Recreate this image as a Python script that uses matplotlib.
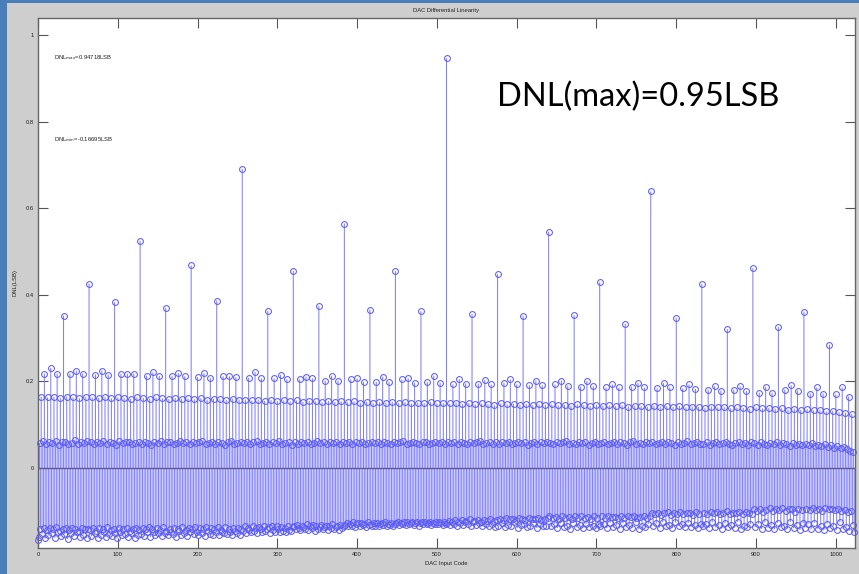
import numpy as np
import matplotlib
matplotlib.use("Agg")
import matplotlib.pyplot as plt
from matplotlib.patches import Rectangle

# DNL value at code 0
dnl_code0 = -0.167

# DNL grouped by the lowest bit that switches on at each code transition
# bit 9 : code 512
dnl_bit9 = [0.947]
# bit 8 : codes 256, 768
dnl_bit8 = [0.691, 0.639]
# bit 7 : codes 128, 384, 640, 896
dnl_bit7 = [0.525, 0.565, 0.546, 0.462]
# bit 6 : codes 64, 192, ... 960
dnl_bit6 = [0.426, 0.468, 0.456, 0.455, 0.448, 0.429, 0.425, 0.361]
# bit 5 : codes 32, 96, ... 992
dnl_bit5 = [0.352, 0.383, 0.370, 0.387, 0.363, 0.374, 0.366, 0.362,
            0.356, 0.352, 0.353, 0.333, 0.347, 0.321, 0.326, 0.285]
# bit 4 : codes 16, 48, ... 1008
dnl_bit4 = [0.231, 0.225, 0.225, 0.218, 0.221, 0.219, 0.219, 0.212,
            0.222, 0.215, 0.211, 0.213, 0.207, 0.211, 0.207, 0.213,
            0.205, 0.204, 0.205, 0.202, 0.202, 0.201, 0.193, 0.197,
            0.196, 0.193, 0.189, 0.189, 0.188, 0.191, 0.186, 0.186]
# bit 3 : codes 8, 24, 40, ... 1016
dnl_bit3 = [0.218, 0.218, 0.218, 0.218, 0.216, 0.216, 0.218, 0.218,
            0.213, 0.213, 0.213, 0.212, 0.210, 0.208, 0.212, 0.210,
            0.208, 0.207, 0.207, 0.205, 0.205, 0.207, 0.202, 0.202,
            0.205, 0.199, 0.199, 0.199, 0.205, 0.197, 0.199, 0.197,
            0.193, 0.195, 0.195, 0.193, 0.197, 0.193, 0.191, 0.191,
            0.193, 0.190, 0.188, 0.189, 0.186, 0.186, 0.188, 0.186,
            0.184, 0.186, 0.184, 0.183, 0.181, 0.179, 0.181, 0.178,
            0.174, 0.174, 0.181, 0.179, 0.172, 0.172, 0.170, 0.165]
# bit 2 : codes 4, 12, 20, ... 1020
dnl_bit2 = [0.165, 0.163, 0.164, 0.162, 0.165, 0.163, 0.161, 0.164, 0.163, 0.162, 0.164, 0.161, 0.163, 0.162, 0.160, 0.163,
            0.162, 0.160, 0.163, 0.161, 0.159, 0.162, 0.160, 0.161, 0.159, 0.161, 0.158, 0.160, 0.159, 0.157, 0.160, 0.158,
            0.158, 0.156, 0.158, 0.155, 0.157, 0.155, 0.156, 0.154, 0.156, 0.153, 0.155, 0.154, 0.152, 0.155, 0.153, 0.154,
            0.152, 0.154, 0.151, 0.153, 0.150, 0.152, 0.151, 0.153, 0.150, 0.152, 0.149, 0.151, 0.150, 0.152, 0.149, 0.150,
            0.149, 0.151, 0.148, 0.150, 0.147, 0.149, 0.148, 0.146, 0.149, 0.147, 0.148, 0.146, 0.148, 0.145, 0.147, 0.146,
            0.147, 0.145, 0.146, 0.144, 0.147, 0.145, 0.143, 0.146, 0.144, 0.145, 0.143, 0.145, 0.142, 0.144, 0.143, 0.141,
            0.144, 0.142, 0.143, 0.141, 0.143, 0.140, 0.142, 0.141, 0.139, 0.142, 0.140, 0.141, 0.138, 0.140, 0.139, 0.137,
            0.140, 0.138, 0.139, 0.137, 0.138, 0.135, 0.137, 0.134, 0.136, 0.133, 0.134, 0.131, 0.132, 0.129, 0.128, 0.125]
# bit 1 : codes 2, 6, 10, ... 1022
dnl_bit1 = [0.058, 0.062, 0.055, 0.060, 0.057, 0.063, 0.054, 0.059, 0.061, 0.056, 0.058, 0.064, 0.055, 0.060, 0.057, 0.062,
            0.059, 0.055, 0.061, 0.057, 0.063, 0.056, 0.060, 0.058, 0.054, 0.062, 0.057, 0.059, 0.061, 0.055, 0.058, 0.060,
            0.056, 0.061, 0.058, 0.054, 0.060, 0.057, 0.062, 0.055, 0.059, 0.061, 0.056, 0.058, 0.063, 0.057, 0.060, 0.055,
            0.060, 0.057, 0.059, 0.062, 0.055, 0.058, 0.061, 0.056, 0.060, 0.058, 0.054, 0.059, 0.062, 0.056, 0.058, 0.061,
            0.057, 0.060, 0.055, 0.059, 0.062, 0.056, 0.058, 0.061, 0.055, 0.059, 0.057, 0.063, 0.056, 0.058, 0.060, 0.054,
            0.059, 0.056, 0.061, 0.057, 0.060, 0.055, 0.058, 0.062, 0.057, 0.059, 0.055, 0.060, 0.058, 0.061, 0.056, 0.059,
            0.058, 0.061, 0.056, 0.059, 0.057, 0.060, 0.055, 0.058, 0.061, 0.057, 0.059, 0.056, 0.060, 0.058, 0.055, 0.059,
            0.057, 0.059, 0.062, 0.056, 0.058, 0.060, 0.057, 0.055, 0.059, 0.061, 0.056, 0.058, 0.060, 0.057, 0.059, 0.056,
            0.060, 0.057, 0.059, 0.055, 0.061, 0.058, 0.056, 0.060, 0.057, 0.059, 0.062, 0.055, 0.058, 0.060, 0.056, 0.059,
            0.056, 0.059, 0.057, 0.061, 0.055, 0.058, 0.060, 0.057, 0.059, 0.054, 0.058, 0.061, 0.056, 0.059, 0.057, 0.060,
            0.058, 0.055, 0.060, 0.057, 0.059, 0.062, 0.056, 0.058, 0.055, 0.060, 0.057, 0.059, 0.054, 0.058, 0.061, 0.056,
            0.057, 0.060, 0.055, 0.058, 0.061, 0.056, 0.059, 0.057, 0.054, 0.059, 0.062, 0.056, 0.058, 0.055, 0.060, 0.057,
            0.059, 0.056, 0.058, 0.061, 0.055, 0.059, 0.057, 0.054, 0.060, 0.056, 0.058, 0.062, 0.055, 0.057, 0.059, 0.056,
            0.056, 0.059, 0.054, 0.058, 0.060, 0.055, 0.057, 0.061, 0.056, 0.053, 0.058, 0.060, 0.055, 0.057, 0.054, 0.059,
            0.057, 0.054, 0.059, 0.056, 0.052, 0.058, 0.055, 0.060, 0.053, 0.057, 0.055, 0.051, 0.058, 0.054, 0.056, 0.052,
            0.055, 0.052, 0.057, 0.050, 0.054, 0.051, 0.056, 0.049, 0.053, 0.047, 0.051, 0.045, 0.049, 0.043, 0.040, 0.036]
# bit 0 : odd codes 1, 3, 5, ... 1023
dnl_bit0 = [
    -0.160, -0.141, -0.152, -0.138, -0.163, -0.144, -0.156, -0.139, -0.150, -0.142, -0.161, -0.137, -0.149, -0.145, -0.158, -0.140,
    -0.153, -0.139, -0.164, -0.143, -0.151, -0.138, -0.157, -0.141, -0.148, -0.146, -0.159, -0.139, -0.154, -0.142, -0.162, -0.140,
    -0.143, -0.158, -0.139, -0.151, -0.145, -0.162, -0.138, -0.155, -0.141, -0.149, -0.160, -0.137, -0.153, -0.144, -0.157, -0.140,
    -0.150, -0.163, -0.139, -0.147, -0.156, -0.142, -0.152, -0.138, -0.159, -0.145, -0.150, -0.141, -0.161, -0.139, -0.154, -0.143,
    -0.152, -0.138, -0.157, -0.142, -0.149, -0.136, -0.160, -0.141, -0.147, -0.155, -0.139, -0.151, -0.143, -0.158, -0.137, -0.150,
    -0.145, -0.156, -0.140, -0.148, -0.153, -0.138, -0.159, -0.142, -0.146, -0.154, -0.137, -0.151, -0.144, -0.157, -0.139, -0.149,
    -0.140, -0.153, -0.137, -0.148, -0.155, -0.139, -0.150, -0.142, -0.157, -0.136, -0.146, -0.152, -0.138, -0.154, -0.141, -0.149,
    -0.137, -0.156, -0.143, -0.147, -0.151, -0.136, -0.153, -0.140, -0.148, -0.155, -0.138, -0.145, -0.150, -0.139, -0.154, -0.141,
    -0.146, -0.135, -0.150, -0.138, -0.143, -0.149, -0.134, -0.145, -0.139, -0.151, -0.136, -0.142, -0.148, -0.133, -0.146, -0.140,
    -0.137, -0.150, -0.135, -0.144, -0.147, -0.134, -0.141, -0.149, -0.136, -0.145, -0.139, -0.148, -0.133, -0.143, -0.146, -0.137,
    -0.134, -0.142, -0.131, -0.139, -0.144, -0.133, -0.137, -0.141, -0.130, -0.143, -0.135, -0.138, -0.132, -0.145, -0.134, -0.140,
    -0.136, -0.131, -0.142, -0.137, -0.133, -0.144, -0.135, -0.139, -0.130, -0.141, -0.136, -0.133, -0.143, -0.132, -0.138, -0.134,
    -0.131, -0.127, -0.135, -0.129, -0.133, -0.126, -0.136, -0.130, -0.128, -0.134, -0.127, -0.132, -0.130, -0.137, -0.126, -0.131,
    -0.129, -0.134, -0.128, -0.133, -0.127, -0.135, -0.130, -0.128, -0.132, -0.126, -0.134, -0.129, -0.131, -0.127, -0.133, -0.130,
    -0.128, -0.125, -0.131, -0.127, -0.129, -0.124, -0.132, -0.126, -0.130, -0.127, -0.125, -0.131, -0.128, -0.126, -0.133, -0.127,
    -0.124, -0.129, -0.126, -0.130, -0.128, -0.125, -0.131, -0.127, -0.129, -0.124, -0.130, -0.126, -0.128, -0.132, -0.125, -0.129,
    -0.127, -0.122, -0.131, -0.125, -0.129, -0.121, -0.133, -0.124, -0.128, -0.120, -0.132, -0.126, -0.123, -0.130, -0.119, -0.134,
    -0.125, -0.122, -0.131, -0.121, -0.128, -0.124, -0.135, -0.120, -0.129, -0.123, -0.133, -0.119, -0.130, -0.122, -0.136, -0.121,
    -0.133, -0.117, -0.128, -0.120, -0.137, -0.116, -0.131, -0.119, -0.135, -0.118, -0.126, -0.121, -0.138, -0.115, -0.132, -0.117,
    -0.129, -0.120, -0.136, -0.116, -0.134, -0.119, -0.127, -0.118, -0.139, -0.115, -0.130, -0.121, -0.135, -0.117, -0.133, -0.116,
    -0.112, -0.135, -0.116, -0.130, -0.113, -0.139, -0.118, -0.128, -0.111, -0.136, -0.115, -0.133, -0.114, -0.140, -0.117, -0.127,
    -0.112, -0.137, -0.116, -0.131, -0.110, -0.138, -0.115, -0.129, -0.113, -0.136, -0.118, -0.134, -0.111, -0.139, -0.116, -0.130,
    -0.135, -0.112, -0.130, -0.115, -0.139, -0.111, -0.127, -0.114, -0.137, -0.113, -0.132, -0.116, -0.140, -0.110, -0.128, -0.115,
    -0.136, -0.112, -0.131, -0.114, -0.138, -0.111, -0.126, -0.116, -0.141, -0.113, -0.133, -0.110, -0.137, -0.115, -0.129, -0.112,
    -0.104, -0.133, -0.107, -0.128, -0.103, -0.138, -0.109, -0.125, -0.105, -0.135, -0.102, -0.131, -0.108, -0.139, -0.104, -0.126,
    -0.106, -0.134, -0.101, -0.130, -0.107, -0.137, -0.103, -0.127, -0.105, -0.136, -0.108, -0.132, -0.102, -0.138, -0.106, -0.129,
    -0.135, -0.103, -0.129, -0.106, -0.139, -0.101, -0.126, -0.105, -0.137, -0.102, -0.132, -0.107, -0.140, -0.104, -0.128, -0.100,
    -0.136, -0.106, -0.131, -0.103, -0.138, -0.105, -0.125, -0.101, -0.141, -0.107, -0.133, -0.102, -0.137, -0.104, -0.130, -0.106,
    -0.096, -0.136, -0.099, -0.129, -0.094, -0.141, -0.101, -0.126, -0.097, -0.138, -0.093, -0.132, -0.100, -0.142, -0.095, -0.127,
    -0.098, -0.137, -0.092, -0.134, -0.099, -0.140, -0.096, -0.125, -0.094, -0.139, -0.101, -0.131, -0.095, -0.143, -0.097, -0.128,
    -0.138, -0.095, -0.130, -0.098, -0.142, -0.093, -0.127, -0.097, -0.140, -0.094, -0.133, -0.099, -0.144, -0.092, -0.129, -0.096,
    -0.139, -0.095, -0.134, -0.098, -0.143, -0.094, -0.126, -0.100, -0.141, -0.097, -0.136, -0.101, -0.145, -0.099, -0.131, -0.148]

x_ticks = [0, 100, 200, 300, 400, 500, 600, 700, 800, 900, 1000]
y_ticks = [0, 0.2, 0.4, 0.6, 0.8, 1.0]
y_tick_labels = ["0", "0.2", "0.4", "0.6", "0.8", "1"]

# put every tier back at its input codes
n_codes = 1024
codes = np.arange(n_codes)
dnl = np.zeros(n_codes)
dnl[0] = dnl_code0
tiers = [dnl_bit0, dnl_bit1, dnl_bit2, dnl_bit3, dnl_bit4,
         dnl_bit5, dnl_bit6, dnl_bit7, dnl_bit8, dnl_bit9]
for b, vals in enumerate(tiers):
    idx = np.arange(2 ** b, n_codes, 2 ** (b + 1))
    dnl[idx] = vals

W, H = 859, 574
# grey MATLAB figure window, with the blue slide showing at left and top
fig = plt.figure(figsize=(W / 100, H / 100), dpi=100, facecolor="#cecece")
fig.patches.append(Rectangle((0, 0), 7 / W, 1, transform=fig.transFigure,
                             facecolor="#4a7ebb", edgecolor="none"))
fig.patches.append(Rectangle((0, 1 - 3 / H), 1, 3 / H,
                             transform=fig.transFigure,
                             facecolor="#4a7ebb", edgecolor="none"))

ax = fig.add_axes([38 / W, 26 / H, 817 / W, 530 / H])
ax.set_facecolor("white")

small = dict(family="Liberation Sans", fontsize=4.2, color="#222222")

markerline, stemlines, baseline = ax.stem(codes, dnl, basefmt=" ")
stemlines.set_color("#8080ff")
stemlines.set_linewidth(0.75)
stemlines.set_snap(False)
markerline.set_marker("o")
markerline.set_markersize(4.2)
markerline.set_markerfacecolor("none")
markerline.set_markeredgecolor("#5c5cf5")
markerline.set_markeredgewidth(0.75)
markerline.set_clip_on(False)
ax.axhline(0, color="#5a5a8a", linewidth=1.0)

ax.set_xlim(0, 1024)
ax.set_ylim(-0.185, 1.04)
ax.set_xticks(x_ticks)
ax.set_xticklabels([str(t) for t in x_ticks], **small)
ax.set_yticks(y_ticks)
ax.set_yticklabels(y_tick_labels, **small)
ax.tick_params(direction="in", length=7, width=0.8, color="#555555",
               top=True, right=True, pad=3)
for s in ax.spines.values():
    s.set_color("#666666")
    s.set_linewidth(1.0)

ax.set_title("DAC Differential Linearity", pad=4, **small)
ax.set_xlabel("DAC Input Code", labelpad=3, **small)
ax.set_ylabel("DNL(LSB)", labelpad=6, **small)

ax.text(20, 0.949, r"DNL$_{\rm max}$=0.94718LSB", va="center", **small)
ax.text(20, 0.759, r"DNL$_{\rm min}$=-0.16695LSB", va="center", **small)

ax.text(575, 0.836, "DNL(max)=0.95LSB", family="Lato", fontsize=23.5,
        color="black", ha="left", va="baseline")

fig.savefig("out.png", dpi=100, facecolor=fig.get_facecolor())
